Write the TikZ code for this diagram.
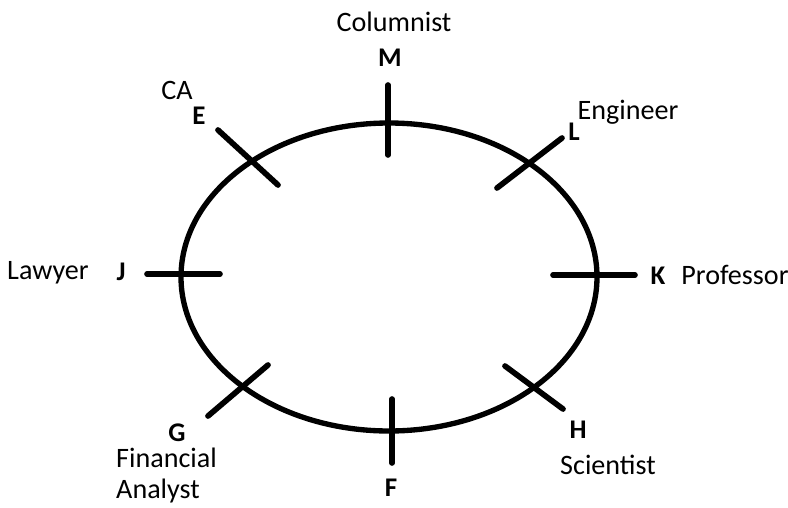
\documentclass[tikz,border=0pt]{standalone}
\usepackage{fontspec}
\setmainfont{Carlito}
\usetikzlibrary{math}

\tikzset{
  seat/.style={line width=1.7mm, line cap=round},
  letter/.style={inner sep=0pt, font=\fontsize{23}{27}\selectfont\bfseries},
  job/.style={inner sep=0pt, font=\fontsize{24}{28}\selectfont},
}

\begin{document}
\begin{tikzpicture}[x=0.3mm, y=-0.3mm]
\tikzmath{
\cx=389; \cy=277;
}
\useasboundingbox (0,0) rectangle (788,507);

% table
\draw[line width=1.6mm] (\cx,\cy) ellipse [x radius=208, y radius=154];

% tick ends
\coordinate (M1) at (388,85);  \coordinate (M2) at (388,155);
\coordinate (E1) at (218,130); \coordinate (E2) at (278,185);
\coordinate (L1) at (562,138); \coordinate (L2) at (497,188);
\coordinate (J1) at (147,274); \coordinate (J2) at (220,274);
\coordinate (K1) at (553,275); \coordinate (K2) at (635,275);
\coordinate (G1) at (268,365); \coordinate (G2) at (208,416);
\coordinate (F1) at (392,399); \coordinate (F2) at (392,463);
\coordinate (H1) at (505,366); \coordinate (H2) at (563,409);

\foreach \p in {M,E,L,J,K,G,F,H}{
  \draw[seat] (\p1) -- (\p2);
}

% people
\node[letter] (M) at (390,58) {M};
\node[letter] (E) at (199,116) {E};
\node[letter] (L) at (574,132) {L};
\node[letter] (J) at (121,272) {J};
\node[letter] (K) at (658,276) {K};
\node[letter] (G) at (177,433) {G};
\node[letter] (F) at (391,488) {F};
\node[letter] (H) at (578,430) {H};

% jobs
\node[job] (colm) at (394,22) {Columnist};
\node[job] (ca) at (177,90) {CA};
\node[job] (engr) at (628,112) {Engineer};
\node[job] (lawr) at (48,273) {Lawyer};
\node[job] (prof) at (735,275) {Professor};
\node[job, anchor=west] (fin) at (116,458) {Financial};
\node[job, anchor=west] (anal) at (116,491) {Analyst};
\node[job] (sci) at (608,465) {Scientist};

\end{tikzpicture}
\end{document}
